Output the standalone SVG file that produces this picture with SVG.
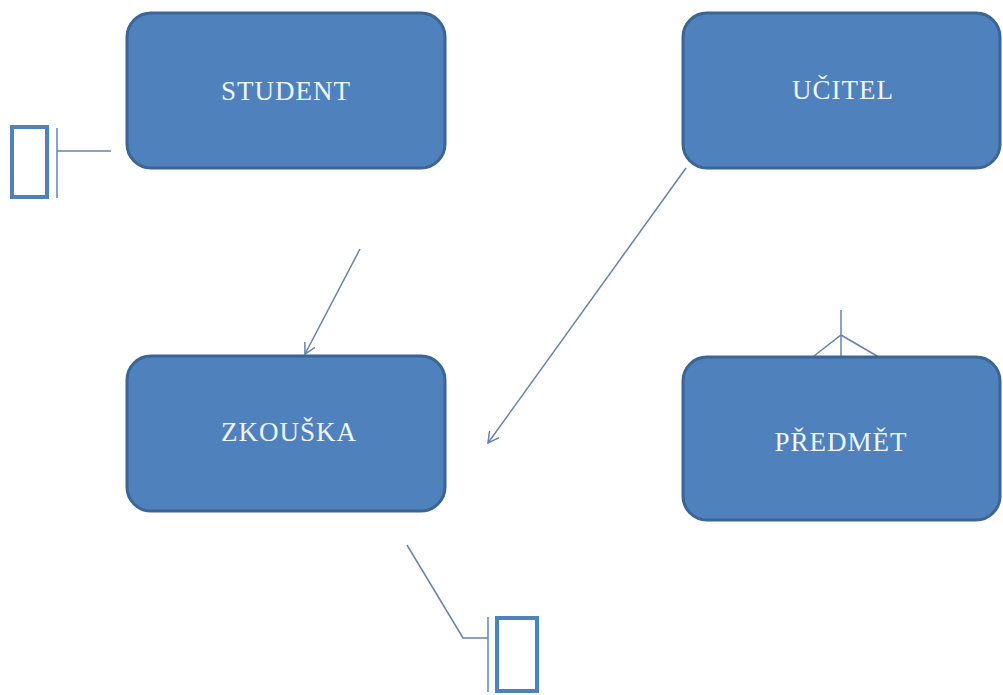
<svg xmlns="http://www.w3.org/2000/svg" width="1003" height="695" viewBox="0 0 1003 695">
<style>
.box{fill:#4f81bd;stroke:#3a6594;stroke-width:3}
.lbl{font-family:"Liberation Serif",serif;font-size:27px;letter-spacing:1px;fill:#f0f5fb;text-anchor:middle}
.ln{fill:none;stroke:#6583ad;stroke-width:1.5}
.sym{fill:#ffffff;stroke:#4f81bd;stroke-width:4}
</style>
<defs>
<marker id="arr" viewBox="0 0 12 12" refX="11" refY="6" markerWidth="12" markerHeight="12" markerUnits="userSpaceOnUse" orient="auto">
<path d="M0,0 L11,6 L0,12" fill="none" stroke="#6583ad" stroke-width="1.5"/>
</marker>
</defs>
<rect width="1003" height="695" fill="#ffffff"/>
<g id="connectors">
<line class="ln" x1="360" y1="249" x2="305" y2="354" marker-end="url(#arr)"/>
<line class="ln" x1="686" y1="168" x2="488" y2="443" marker-end="url(#arr)"/>
<rect class="sym" x="12" y="127" width="35" height="70"/>
<line class="ln" x1="57" y1="128" x2="57" y2="198"/>
<line class="ln" x1="57" y1="151" x2="111" y2="151"/>
<line class="ln" x1="841" y1="310" x2="841" y2="356"/>
<polyline class="ln" points="814,356 841,335 877,356"/>
<polyline class="ln" points="407,545 463,638 488,638"/>
<line class="ln" x1="488" y1="617" x2="488" y2="692"/>
<rect class="sym" x="497" y="618" width="40" height="73"/>
</g>
<g id="student">
<rect class="box" x="127" y="13" width="318" height="155" rx="24"/>
<text class="lbl" x="286" y="100">STUDENT</text>
</g>
<g id="ucitel">
<rect class="box" x="683" y="13" width="317" height="155" rx="24"/>
<text class="lbl" x="843" y="99">UČITEL</text>
</g>
<g id="zkouska">
<rect class="box" x="127" y="356" width="318" height="155" rx="24"/>
<text class="lbl" x="289" y="441">ZKOUŠKA</text>
</g>
<g id="predmet">
<rect class="box" x="683" y="357" width="317" height="163" rx="24"/>
<text class="lbl" x="841" y="451">PŘEDMĚT</text>
</g>
</svg>
